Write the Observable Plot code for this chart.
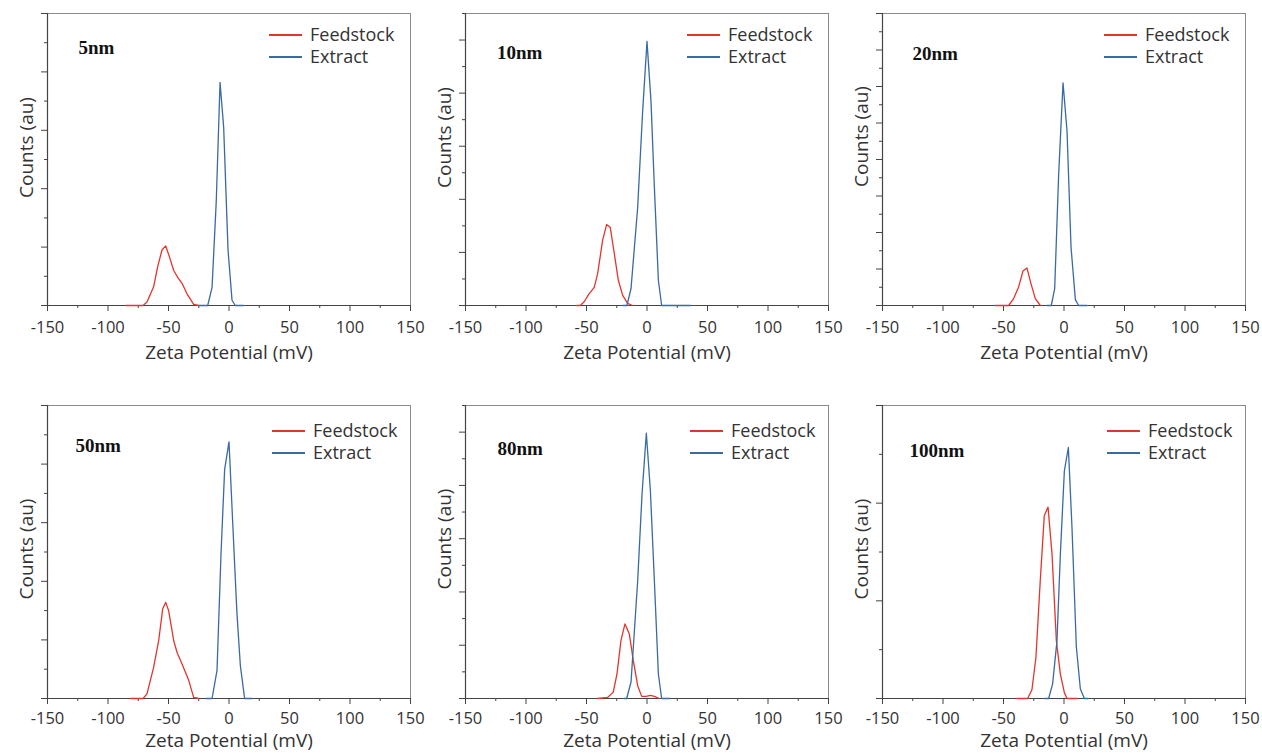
<!DOCTYPE html>
<html>
<head>
<meta charset="utf-8">
<script src="https://cdn.jsdelivr.net/npm/d3@7"></script>
<script src="https://cdn.jsdelivr.net/npm/@observablehq/plot@0.6"></script>
<style>
  body { margin: 0; background: #fff; }
  #root { position: relative; width: 1262px; height: 753px; overflow: hidden; background: #fff; }
  #root > svg { position: absolute; }
  .legend { position: absolute; font-family: "Open Sans", sans-serif; font-size: 18px; color: #333; }
  .legend .sw { position: absolute; height: 2.2px; }
  .legend .lbl { position: absolute; line-height: 1; transform: translateY(-55%); white-space: nowrap; }
</style>
</head>
<body>
<div id="root"></div>
<script>
// ---- data (Zeta potential mV, counts au) ----
const sizeLabels = ["5nm", "10nm", "20nm", "50nm", "80nm", "100nm"];
const seriesNames = ["Feedstock", "Extract"];
const xTicks = [-150, -100, -50, 0, 50, 100, 150];
const yMax = [5, 5.5, 8, 5, 5.5, 3];

const feed5 = [[-85,0],[-71,0],[-67.8,0.06],[-62.3,0.32],[-59,0.66],[-55.4,0.95],[-52.3,1.02],[-49,0.82],[-45.7,0.6],[-42,0.47],[-38.8,0.38],[-34.7,0.2],[-29.2,0.02],[-25,0]];
const extr5 = [[-25,0],[-17.6,0],[-14,0.31],[-10.5,1.8],[-7.4,3.82],[-4.4,3.05],[-0.8,0.95],[2.5,0.09],[5.2,0],[12,0]];

const feed10 = [[-58,0],[-55.2,0],[-51.9,0.07],[-47.8,0.225],[-43.6,0.34],[-40.8,0.6],[-36.7,1.225],[-33.4,1.525],[-30.4,1.475],[-27,0.975],[-23.7,0.475],[-20.1,0.19],[-16,0.04],[-11.9,0]];
const extr10 = [[-20,0],[-16.6,0],[-13.2,0.32],[-7.7,1.85],[-3.6,3.66],[0,4.975],[3.3,3.85],[6.1,2.225],[9.4,0.475],[12.1,0],[36,0]];

const feed20 = [[-57,0],[-45.8,0],[-41.6,0.19],[-37.5,0.51],[-33.9,0.945],[-30.6,1.03],[-27.3,0.6],[-23.7,0.19],[-19.6,0]];
const extr20 = [[-14,0],[-10.5,0],[-7.7,0.46],[-4.4,3.6],[-0.8,6.1],[2.5,4.78],[5.8,1.6],[9.4,0.16],[12.1,0],[19,0]];

const feed50 = [[-81.5,0],[-71,0],[-67.8,0.08],[-62.3,0.53],[-58.1,0.99],[-54.8,1.53],[-52.3,1.64],[-49.9,1.5],[-45.7,0.99],[-43,0.79],[-38.8,0.59],[-33.3,0.31],[-29.2,0.02],[-25.1,0]];
const extr50 = [[-19,0],[-14,0],[-9.9,0.48],[-6.6,2.47],[-3.6,3.91],[0,4.38],[3,3.03],[6.6,1.44],[9.4,0.56],[12.9,0],[19,0]];

const feed80 = [[-40.8,0],[-32.6,0.02],[-27.9,0.12],[-24.8,0.46],[-21.5,1.09],[-18.2,1.4],[-14.6,1.21],[-11.3,0.71],[-7.7,0.24],[-4.4,0.04],[-0.8,0.04],[2.8,0.06],[6.1,0.04],[10.2,0]];
const extr80 = [[-19,0],[-16.8,0],[-13.2,0.31],[-7.7,2.21],[-4.1,3.84],[-0.55,4.98],[2.8,3.9],[6.1,2.21],[9.4,0.46],[12.1,0],[19,0]];

const feed100 = [[-38.9,0],[-30,0],[-26.5,0.09],[-23.2,0.42],[-19.6,1.21],[-16.3,1.87],[-13.2,1.96],[-9.9,1.48],[-6.3,0.59],[-3,0.25],[0.3,0.06],[2.5,0],[10.8,0]];
const extr100 = [[-16,0],[-12.7,0],[-9.4,0.15],[-5.8,0.59],[-3,1.48],[0.3,2.33],[3.6,2.57],[6.6,1.75],[10.2,0.53],[13.5,0.1],[16.8,0],[20,0]];

const feedstock = [feed5, feed10, feed20, feed50, feed80, feed100];
const extract = [extr5, extr10, extr20, extr50, extr80, extr100];

// ---- layout ----
const colors = ["#e2362c", "#3b6aa2"];
const W = 420, H = 370;
const layout = [
  {left: 0,   top: 0,   mb: 65, lab: [31, 34],   ytitle: -12, row: 0},
  {left: 418, top: 0,   mb: 65, lab: [31.5, 39], ytitle: -22, row: 0},
  {left: 835, top: 0,   mb: 65, lab: [30, 40],   ytitle: -23, row: 0},
  {left: 0,   top: 392, mb: 64, lab: [28, 40],   ytitle: -3,  row: 1},
  {left: 418, top: 392, mb: 64, lab: [32, 43],   ytitle: -13, row: 1},
  {left: 835, top: 392, mb: 64, lab: [27, 45],   ytitle: -3,  row: 1}
];
const rowStyle = [
  {tickDy: 22, titleDy: 47, legY: [22, 44], legX: [-141, -108, -100]},
  {tickDy: 20, titleDy: 42, legY: [26, 48], legX: [-138, -105, -97]}
];
const mL = 47, mT = 13, mR = 10;

const root = document.getElementById("root");

sizeLabels.forEach((label, i) => {
  const L = layout[i], R = rowStyle[L.row];
  const data = [
    ...feedstock[i].map(([x, y]) => ({x, y, series: seriesNames[0]})),
    ...extract[i].map(([x, y]) => ({x, y, series: seriesNames[1]}))
  ];
  const majorY = d3.range(0, yMax[i] + 1e-9, 1);
  const minorY = d3.range(0.5, yMax[i] + 1e-9, 1);
  const minorX = d3.range(-125, 150, 50);
  const svg = Plot.plot({
    width: W, height: H,
    marginLeft: mL, marginRight: mR, marginTop: mT, marginBottom: L.mb,
    x: {domain: [-150, 150]},
    y: {domain: [0, yMax[i]]},
    color: {domain: seriesNames, range: colors},
    style: {fontFamily: "'Open Sans', sans-serif", fontSize: "16px", color: "#333", background: "transparent", overflow: "visible"},
    marks: [
      Plot.frame({stroke: "#8a8a8a", strokeWidth: 1}),
      Plot.axisX(minorX, {tickSize: 3, tickFormat: () => "", label: null, stroke: "#444"}),
      Plot.axisX(xTicks, {tickSize: 6, tickFormat: () => "", label: null, stroke: "#444"}),
      Plot.axisY(minorY, {tickSize: 3, tickFormat: () => "", label: null, stroke: "#444"}),
      Plot.axisY(majorY, {tickSize: 6, tickFormat: () => "", label: null, stroke: "#444"}),
      Plot.ruleX([-150], {stroke: "#444", strokeWidth: 1.2}),
      Plot.ruleY([0], {stroke: "#444", strokeWidth: 1.2}),
      Plot.text(xTicks, {x: d => d, frameAnchor: "bottom", dy: R.tickDy, lineAnchor: "middle", text: d => String(d), fill: "#333", fontSize: 16.5}),
      Plot.text(["Zeta Potential (mV)"], {frameAnchor: "bottom", dy: R.titleDy, lineAnchor: "middle", fill: "#333", fontSize: 19}),
      Plot.text(["Counts (au)"], {frameAnchor: "left", dx: -21, dy: L.ytitle, rotate: -90, textAnchor: "middle", lineAnchor: "middle", fill: "#333", fontSize: 19}),
      Plot.text([label], {frameAnchor: "top-left", dx: L.lab[0], dy: L.lab[1], textAnchor: "start", lineAnchor: "middle", fontFamily: "'Liberation Serif', 'Times New Roman', serif", fontWeight: "bold", fontSize: 19, fill: "#111"}),
      Plot.line(data, {x: "x", y: "y", z: "series", stroke: "series", strokeWidth: 1.3, curve: "linear"})
    ]
  });
  svg.style.left = L.left + "px";
  svg.style.top = L.top + "px";
  root.appendChild(svg);

  // legend (HTML overlay, positioned relative to the frame's top-right corner)
  const frameRight = L.left + W - mR;
  const frameTop = L.top + mT;
  const leg = document.createElement("div");
  leg.className = "legend";
  leg.style.left = "0px"; leg.style.top = "0px";
  seriesNames.forEach((name, k) => {
    const y = frameTop + R.legY[k];
    const sw = document.createElement("div");
    sw.className = "sw";
    sw.style.left = (frameRight + R.legX[0]) + "px";
    sw.style.width = (R.legX[1] - R.legX[0]) + "px";
    sw.style.top = (y - 1) + "px";
    sw.style.background = colors[k];
    const lb = document.createElement("div");
    lb.className = "lbl";
    lb.style.left = (frameRight + R.legX[2]) + "px";
    lb.style.top = y + "px";
    lb.textContent = name;
    leg.appendChild(sw);
    leg.appendChild(lb);
  });
  root.appendChild(leg);
});
</script>
</body>
</html>
